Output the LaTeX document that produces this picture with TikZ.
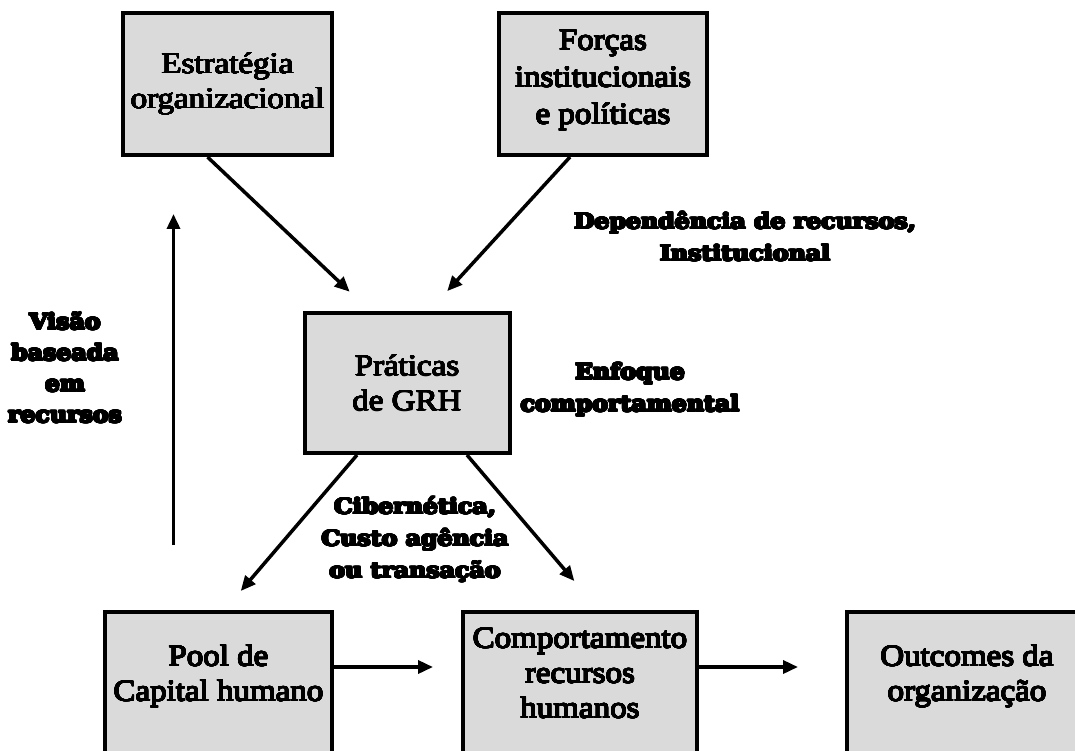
\documentclass[tikz,border=0pt]{standalone}
\usepackage{fontspec}
\usepackage{contour}
\setmainfont{Liberation Serif}
\newfontfamily\boxfont[FakeStretch=1.1]{Liberation Serif}
\newfontfamily\lblfont[FakeStretch=1.1]{DejaVu Serif Bold}
\contournumber{24}
% heavy strokes for the theory labels, a lighter one for the box texts
\newcommand\hvy[1]{{\contourlength{0.95pt}\contour{black}{#1}}}
\newcommand\mdw[1]{{\contourlength{0.45pt}\contour{black}{#1}}}
\usetikzlibrary{arrows.meta}
\definecolor{boxgray}{RGB}{218,218,218}
\begin{document}
\begin{tikzpicture}[x=1pt,y=-1pt,
  box/.style={draw=black,fill=boxgray,line width=4pt,inner sep=0pt,align=center,
    font=\boxfont\fontsize{30}{35}\selectfont},
  lowbox/.style={box,text depth=22pt},
  lbl/.style={align=center,inner sep=0pt,font=\lblfont\fontsize{21.5}{32}\selectfont},
  arr/.style={line width=3.5pt,-{Triangle[length=15pt,width=13pt]}}]
\useasboundingbox (0,0) rectangle (1075,751);
\clip (0,0) rectangle (1075,751);

% boxes
\node[box,minimum width=209pt,minimum height=142pt] (estr) at (227.5,84) {\mdw{Estratégia}\\\mdw{organizacional}};
\node[box,minimum width=208pt,minimum height=142pt,font=\boxfont\fontsize{30}{37}\selectfont,text depth=14pt] (forc) at (603,84) {\mdw{Forças}\\\mdw{institucionais}\\\mdw{e políticas}};
\node[box,minimum width=205pt,minimum height=140pt] (prat) at (407,383) {\mdw{Práticas}\\\mdw{de GRH}};
\node[lowbox,minimum width=227pt,minimum height=144pt] (pool) at (218.5,684) {\mdw{Pool de}\\\mdw{Capital humano}};
\node[lowbox,minimum width=234pt,minimum height=144pt] (comp) at (580,684) {\mdw{Comportamento}\\\mdw{recursos}\\\mdw{humanos}};
\node[lowbox,minimum width=240pt,minimum height=144pt] (outc) at (967,684) {\mdw{Outcomes da}\\\mdw{organização}};

% labels
\node[lbl] (ldep) at (745,237) {\hvy{Dependência de recursos,}\\\hvy{Institucional}};
\node[lbl] (lenf) at (630,390) {\hvy{Enfoque}\\\hvy{comportamental}};
\node[lbl] (lcib) at (415,540) {\hvy{Cibernética,}\\\hvy{Custo agência}\\\hvy{ou transação}};
\node[lbl,font=\lblfont\fontsize{21.5}{31}\selectfont] (lvis) at (65,368) {\hvy{Visão}\\\hvy{baseada}\\\hvy{em}\\\hvy{recursos}};

% connectors
\draw[arr,shorten >=28pt] ([xshift=-20pt]estr.south) -- ([xshift=-37pt]prat.north);
\draw[arr,shorten >=27pt] ([xshift=-33pt]forc.south) -- ([xshift=22pt]prat.north);
\draw[arr,shorten >=25pt] ([xshift=-50pt]prat.south) -- ([xshift=6pt]pool.north);
\draw[arr,shorten >=38pt] ([xshift=60pt]prat.south) -- ([xshift=19pt]comp.north);
\draw[arr,shorten >=28pt] ([yshift=-57pt]pool.north east) -- ([yshift=-57pt]comp.north west);
\draw[arr,shorten >=47pt] ([yshift=-57pt]comp.north east) -- ([yshift=-57pt]outc.north west);
\draw[arr,shorten <=65pt,shorten >=57pt] ([xshift=-45pt]pool.north) -- ([xshift=-45pt]pool.north |- estr.south);
\end{tikzpicture}
\end{document}
